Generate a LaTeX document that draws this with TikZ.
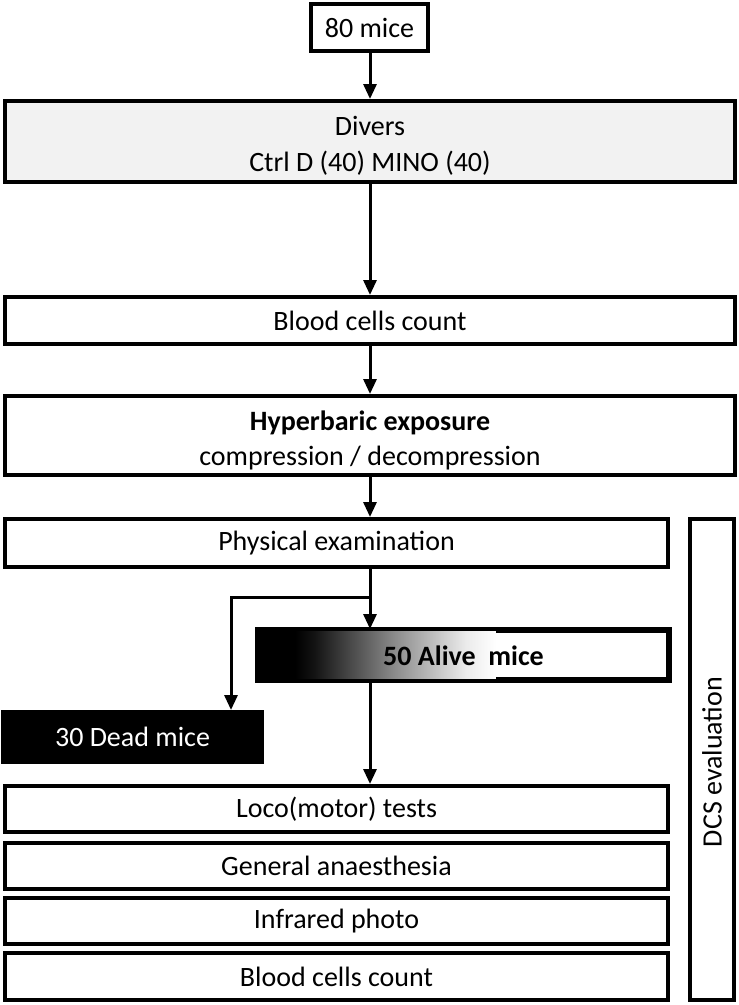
\documentclass[tikz,border=0pt]{standalone}
\usepackage{fontspec}
\setmainfont{Carlito}
\usetikzlibrary{arrows.meta}
\definecolor{boxgray}{HTML}{F2F2F2}
\pgfdeclarehorizontalshading{alivefade}{47.8bp}{color(0bp)=(black); color(20bp)=(black!92); color(100bp)=(black!45); color(170bp)=(black!8); color(200bp)=(white)}
\tikzset{
  stepbox/.style={draw=black,line width=4pt,rectangle,inner sep=0pt,align=center,font=\fontsize{28}{35}\selectfont},
  txt/.style={inner sep=0pt,align=center,font=\fontsize{28}{35}\selectfont},
  flow/.style={line width=3pt,-{Triangle[width=13pt,length=15pt]}}
}
\begin{document}
\begin{tikzpicture}[x=1pt,y=-1pt]
\useasboundingbox (0,0) rectangle (739,1005);
\node[stepbox,minimum width=117pt,minimum height=47pt] (m80) at (369.5,27.5) {80 mice};
\node[stepbox,fill=boxgray,minimum width=730pt,minimum height=81pt] (divers) at (370,141.5) {};
\node[txt] (diverst) at (370,146) {Divers\\[1pt]Ctrl D (40) MINO (40)};
\node[stepbox,minimum width=730pt,minimum height=47pt] (blood1) at (370,320.5) {Blood cells count};
\node[stepbox,minimum width=730pt,minimum height=79pt] (hyper) at (370,435.5) {};
\node[txt] (hypert) at (370,440) {\textbf{Hyperbaric exposure}\\[0pt]compression / decompression};
\node[stepbox,minimum width=663pt,minimum height=48pt] (phys) at (336.5,543) {Physical examination};
% alive box with gradient
\node[stepbox,minimum width=409pt,minimum height=48pt] (alive) at (463.5,655) {};
\fill[black] (alive.north west) rectangle (296,679);
\node[inner sep=0pt,outer sep=0pt,anchor=west] (grad) at (295,655) {\pgfuseshading{alivefade}};
\draw[line width=4pt] (alive.north west) rectangle (alive.south east);
\node[txt,font=\fontsize{28}{35}\selectfont\bfseries] (alivetxt) at (463.5,656) {50 Alive\ \ mice};
\node[stepbox,fill=black,text=white,minimum width=259pt,minimum height=50pt] (dead) at (132.5,737) {30 Dead mice};
\node[stepbox,minimum width=663pt,minimum height=46pt] (loco) at (336.5,809) {Loco(motor) tests};
\node[stepbox,minimum width=663pt,minimum height=46pt] (gen) at (336.5,866) {General anaesthesia};
\node[stepbox,minimum width=663pt,minimum height=46pt] (infra) at (336.5,921) {Infrared photo};
\node[stepbox,minimum width=663pt,minimum height=47pt] (blood2) at (336.5,976.5) {Blood cells count};
\node[stepbox,minimum width=44pt,minimum height=481pt] (dcs) at (712,759.5) {};
\node[txt,rotate=90] (dcstxt) at (712,762) {DCS evaluation};
% connectors
\coordinate (sp) at (370,0);
\coordinate (br) at (370,597);
\coordinate (dk) at (231,597);
\draw[flow] (sp |- m80.south) -- (sp |- divers.north);
\draw[flow] (sp |- divers.south) -- (sp |- blood1.north);
\draw[flow] (sp |- blood1.south) -- (sp |- hyper.north);
\draw[flow] (sp |- hyper.south) -- (sp |- phys.north);
\draw[flow] (sp |- phys.south) -- (sp |- alive.north);
\draw[flow] (br) -- (dk) -- (dk |- dead.north);
\draw[flow] (sp |- alive.south) -- (sp |- loco.north);
\end{tikzpicture}
\end{document}
